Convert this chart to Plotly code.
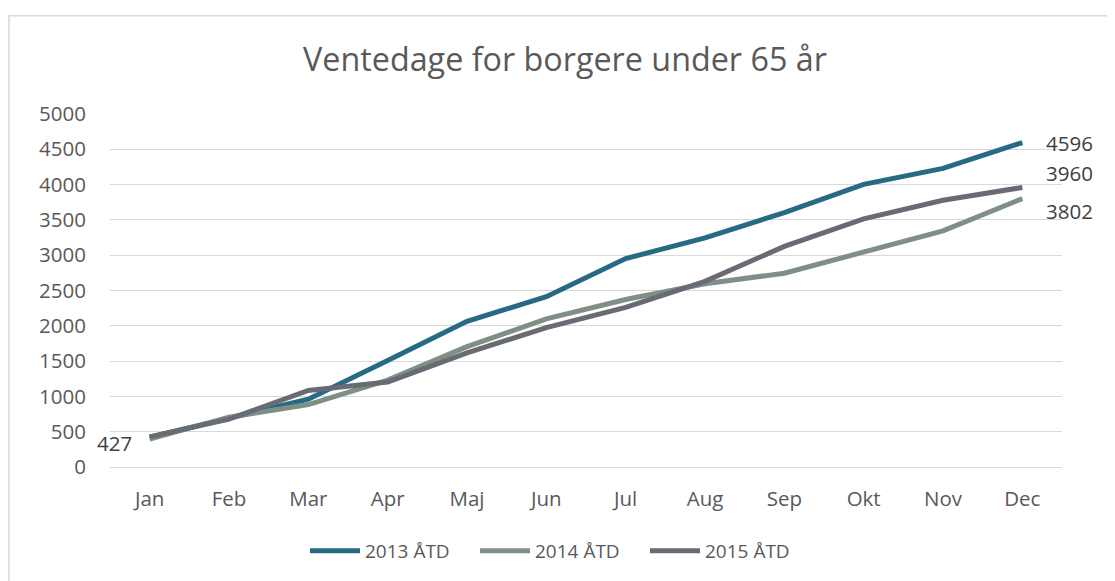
import plotly.graph_objects as go

months = ["Jan", "Feb", "Mar", "Apr", "Maj", "Jun", "Jul", "Aug", "Sep", "Okt", "Nov", "Dec"]
s2013 = [424, 692, 960, 1510, 2064, 2413, 2952, 3246, 3604, 4004, 4230, 4596]
s2014 = [395, 706, 885, 1230, 1705, 2098, 2373, 2596, 2745, 3052, 3345, 3802]
s2015 = [427, 678, 1085, 1203, 1615, 1975, 2262, 2630, 3124, 3514, 3778, 3960]
names = ["2013 ÅTD", "2014 ÅTD", "2015 ÅTD"]
colors = ["#276A84", "#7E8F86", "#686B73"]
yticks = [0, 500, 1000, 1500, 2000, 2500, 3000, 3500, 4000, 4500, 5000]

series = [s2013, s2014, s2015]

fig = go.Figure()
for vals, name, col in zip(series, names, colors):
    fig.add_trace(go.Scatter(
        x=months, y=vals, name=name, mode="lines",
        line=dict(color=col, width=5),
    ))

# data labels (value read from the series arrays)
label_specs = [
    (months[-1], s2013[-1], "left", 22, 0),
    (months[-1], s2015[-1], "left", 22, 14),
    (months[-1], s2014[-1], "left", 22, -12),
    (months[0], s2015[0], "right", -16, -6),
]
for xv, yv, anchor, xs, ys in label_specs:
    fig.add_annotation(x=xv, y=yv, text=str(yv), showarrow=False,
                       xanchor=anchor, yanchor="middle", xshift=xs, yshift=ys,
                       font=dict(family="Open Sans", size=20.5, color="#404040"))

W, H = 1107, 573
L, T, R, B = 102, 106, 53, 113
ph = H - T - B
pw = W - L - R

fig.update_layout(
    width=W, height=H,
    paper_bgcolor="white", plot_bgcolor="white",
    margin=dict(l=L, r=R, t=T, b=B),
    title=dict(text="Ventedage for borgere under 65 år", x=557 / W, xanchor="center",
               xref="container", yref="container",
               y=1 - 52 / H, yanchor="middle",
               font=dict(family="Open Sans", size=32.3, color="#595959")),
    font=dict(family="Open Sans", color="#595959", size=16),
    showlegend=True,
    legend=dict(orientation="h", x=0.5 - 26 / pw, xanchor="center", y=-83 / ph, yanchor="middle",
                font=dict(size=19, color="#595959"),
                entrywidth=105, entrywidthmode="pixels", itemwidth=50),
    xaxis=dict(range=[-0.5, len(months) - 0.5], showgrid=False, showline=True,
               linecolor="#d9d9d9", linewidth=1,
               ticks="outside", ticklen=13, tickcolor="rgba(0,0,0,0)",
               tickfont=dict(size=20.5, color="#595959")),
    yaxis=dict(range=[0, 5000], tickvals=yticks, showgrid=True, gridcolor="#d9d9d9",
               gridwidth=1, zeroline=False, showline=False,
               ticks="outside", ticklen=19, tickcolor="rgba(0,0,0,0)",
               tickfont=dict(size=20.5, color="#595959")),
    shapes=[dict(type="rect", xref="paper", yref="paper",
                 x0=(1 - L) / pw, x1=(W + 20 - L) / pw,
                 y0=(T + ph - (H + 20)) / ph, y1=(T + ph - 7.5) / ph,
                 line=dict(color="#d9d9d9", width=1.5))],
)

fig.write_html("out.html")
